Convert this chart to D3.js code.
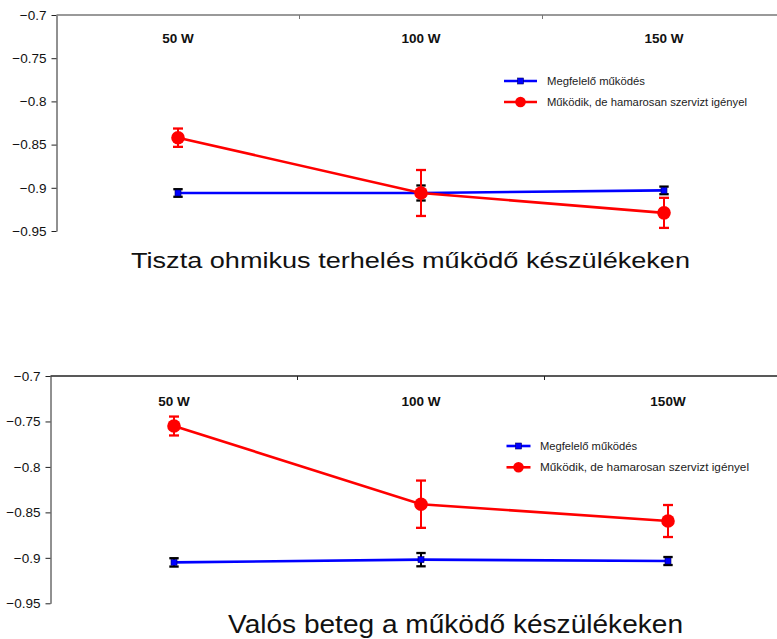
<!DOCTYPE html>
<html>
<head>
<meta charset="utf-8">
<script src="https://cdn.jsdelivr.net/npm/d3@7"></script>
<style>
  html, body { margin: 0; padding: 0; background: #fff; }
  svg { display: block; font-family: Arial, "Liberation Sans", Helvetica, sans-serif; }
</style>
</head>
<body>
<svg id="chart" width="777" height="639"></svg>
<script>
// Power levels on the horizontal axis (one list per panel, labels differ slightly)
const categoriesOhmic = ["50 W", "100 W", "150 W"];
const categoriesPatient = ["50 W", "100 W", "150W"];
const yTickValues = [-0.7, -0.75, -0.8, -0.85, -0.9, -0.95];

const seriesNames = ["Megfelelő működés", "Működik, de hamarosan szervizt igényel"];

// Panel 1: pure resistive load
const ohmicOk = [-0.906, -0.906, -0.903];
const ohmicOkErr = [0.0044, 0.0087, 0.0044];
const ohmicService = [-0.842, -0.906, -0.929];
const ohmicServiceErr = [0.0106, 0.0266, 0.0174];

// Panel 2: real patient
const patientOk = [-0.905, -0.902, -0.9035];
const patientOkErr = [0.0046, 0.0073, 0.0044];
const patientService = [-0.755, -0.841, -0.8595];
const patientServiceErr = [0.0104, 0.026, 0.0176];

const titles = ["Tiszta ohmikus terhelés működő készülékeken", "Valós beteg a működő készülékeken"];

const svg = d3.select("#chart");

function drawPanel(p) {
  const g = svg.append("g");
  const x = d3.scaleBand().domain(p.categories).range([p.left, p.left + 3 * p.band]);
  const y = d3.scaleLinear().domain([-0.95, -0.7]).range([p.bottom, p.top]);

  // left value axis
  const yAxis = g.append("g")
    .attr("transform", `translate(${p.left},0)`)
    .call(d3.axisLeft(y).tickValues(yTickValues).tickSize(5).tickSizeOuter(0).tickFormat(d3.format("")));
  yAxis.select(".domain").attr("stroke", "#222").attr("stroke-width", 1);
  yAxis.selectAll(".tick line").attr("stroke", "#222");
  yAxis.selectAll(".tick text")
    .attr("x", -10)
    .attr("font-size", 13.5)
    .attr("fill", "#111")
    .attr("font-family", "Arial, 'Liberation Sans', sans-serif");

  // category axis along the top edge, with ticks between categories
  g.append("line")
    .attr("x1", p.left).attr("x2", 777)
    .attr("y1", y(-0.7)).attr("y2", y(-0.7))
    .attr("stroke", p.topColor).attr("stroke-width", 1.3);
  g.selectAll(".sep").data(p.categories.slice(1)).enter().append("line")
    .attr("x1", d => x(d)).attr("x2", d => x(d))
    .attr("y1", y(-0.7)).attr("y2", y(-0.7) + 4)
    .attr("stroke", p.topColor).attr("stroke-width", 1);

  // category labels
  g.selectAll(".cat").data(p.categories).enter().append("text")
    .attr("x", d => x(d) + x.bandwidth() / 2)
    .attr("y", p.catY)
    .attr("text-anchor", "middle")
    .attr("font-weight", "bold")
    .attr("font-size", 13.5)
    .attr("fill", "#111")
    .text(d => d);

  const cx = i => x(p.categories[i]) + x.bandwidth() / 2;
  const line = d3.line().x((d, i) => cx(i)).y(d => y(d));

  const series = [
    { vals: p.ok, err: p.okErr, color: "#0000ff", errColor: "#000", cap: 4.7, marker: "square" },
    { vals: p.service, err: p.serviceErr, color: "#ff0000", errColor: "#ff0000", cap: 5, marker: "circle" }
  ];

  series.forEach(s => {
    const sg = g.append("g");
    sg.append("path").datum(s.vals)
      .attr("d", line).attr("fill", "none")
      .attr("stroke", s.color).attr("stroke-width", 2.6);
    const eb = sg.selectAll(".eb").data(s.vals).enter().append("g");
    eb.append("line")
      .attr("x1", (d, i) => cx(i)).attr("x2", (d, i) => cx(i))
      .attr("y1", (d, i) => y(d + s.err[i])).attr("y2", (d, i) => y(d - s.err[i]))
      .attr("stroke", s.errColor).attr("stroke-width", 2);
    [1, -1].forEach(sign => {
      eb.append("line")
        .attr("x1", (d, i) => cx(i) - s.cap).attr("x2", (d, i) => cx(i) + s.cap)
        .attr("y1", (d, i) => y(d + sign * s.err[i])).attr("y2", (d, i) => y(d + sign * s.err[i]))
        .attr("stroke", s.errColor).attr("stroke-width", 2.3);
    });
    if (s.marker === "square") {
      sg.selectAll(".mk").data(s.vals).enter().append("rect")
        .attr("x", (d, i) => cx(i) - 3).attr("y", d => y(d) - 3)
        .attr("width", 6).attr("height", 6)
        .attr("fill", s.color).attr("stroke", "#000060").attr("stroke-width", 0.6);
    } else {
      sg.selectAll(".mk").data(s.vals).enter().append("circle")
        .attr("cx", (d, i) => cx(i)).attr("cy", d => y(d)).attr("r", 6.8)
        .attr("fill", s.color);
    }
  });

  // legend
  const lg = g.append("g").attr("transform", `translate(${p.legX},${p.legY})`);
  seriesNames.forEach((name, i) => {
    const row = lg.append("g").attr("transform", `translate(0,${i * p.legGap})`);
    const s = series[i];
    row.append("line").attr("x1", 0).attr("x2", p.legLine).attr("y1", 0).attr("y2", 0)
      .attr("stroke", s.color).attr("stroke-width", 2.6);
    if (s.marker === "square") {
      row.append("rect").attr("x", p.legLine / 2 - 3).attr("y", -3).attr("width", 6).attr("height", 6)
        .attr("fill", s.color).attr("stroke", "#000060").attr("stroke-width", 0.6);
    } else {
      row.append("circle").attr("cx", p.legLine / 2).attr("cy", 0).attr("r", 5.3).attr("fill", s.color);
    }
    row.append("text").attr("x", p.legText).attr("y", 0).attr("dy", "0.35em")
      .attr("font-size", 11).attr("fill", "#222")
      .attr("textLength", p.legWidths[i]).attr("lengthAdjust", "spacingAndGlyphs")
      .text(name);
  });

  // panel caption (wide set type)
  g.append("text")
    .attr("x", p.titleX).attr("y", p.titleY)
    .attr("font-size", p.titleSize)
    .attr("fill", "#111")
    .attr("textLength", p.titleWidth).attr("lengthAdjust", "spacingAndGlyphs")
    .text(p.title);
}

drawPanel({
  categories: categoriesOhmic, left: 56.5, band: 243, top: 15, bottom: 231, topColor: "#777",
  catY: 43, ok: ohmicOk, okErr: ohmicOkErr, service: ohmicService, serviceErr: ohmicServiceErr,
  legX: 504, legY: 81, legGap: 21, legLine: 33, legText: 43, legWidths: [98, 200],
  title: titles[0], titleX: 131, titleY: 267.5, titleSize: 22.5, titleWidth: 559
});

drawPanel({
  categories: categoriesPatient, left: 50.5, band: 247, top: 376, bottom: 603.3, topColor: "#222",
  catY: 405.5, ok: patientOk, okErr: patientOkErr, service: patientService, serviceErr: patientServiceErr,
  legX: 506.5, legY: 446, legGap: 21.3, legLine: 24, legText: 33.5, legWidths: [97, 209],
  title: titles[1], titleX: 228, titleY: 632.5, titleSize: 25.5, titleWidth: 455
});
</script>
</body>
</html>
